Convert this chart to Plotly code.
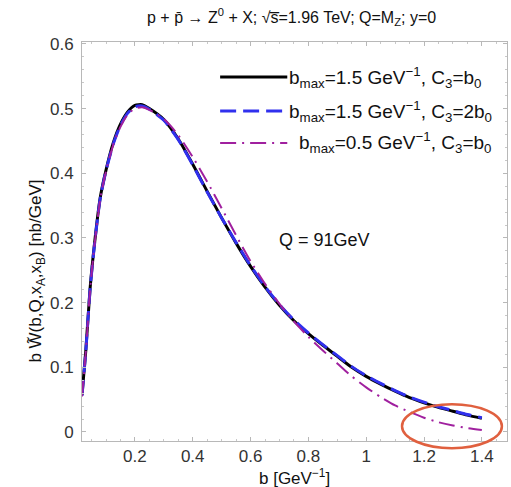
import plotly.graph_objects as go

# impact parameter b [GeV^-1]
b = [0.017, 0.03, 0.045, 0.06, 0.08, 0.10, 0.125, 0.15, 0.175, 0.20, 0.225, 0.25,
     0.30, 0.35, 0.40, 0.45, 0.50, 0.55, 0.60, 0.65, 0.70, 0.75, 0.80, 0.85,
     0.90, 0.95, 1.00, 1.05, 1.10, 1.15, 1.20, 1.25, 1.30, 1.35, 1.40]

# b * W~(b, Q, xA, xB) [nb/GeV]
w_bmax15_c3b0 = [0.057, 0.125, 0.222, 0.290, 0.362, 0.405, 0.447, 0.476, 0.495, 0.505, 0.506, 0.500,
                 0.483, 0.453, 0.414, 0.372, 0.331, 0.292, 0.256, 0.224, 0.196, 0.172, 0.152, 0.134,
                 0.117, 0.100, 0.086, 0.074, 0.063, 0.053, 0.045, 0.038, 0.032, 0.026, 0.021]
w_bmax15_c32b0 = [0.056, 0.124, 0.221, 0.289, 0.361, 0.404, 0.445, 0.474, 0.493, 0.503, 0.504, 0.499,
                  0.482, 0.452, 0.413, 0.371, 0.331, 0.293, 0.257, 0.225, 0.197, 0.173, 0.153, 0.135,
                  0.118, 0.101, 0.087, 0.075, 0.064, 0.054, 0.046, 0.039, 0.033, 0.027, 0.022]
w_bmax05_c3b0 = [0.055, 0.123, 0.220, 0.288, 0.360, 0.403, 0.444, 0.472, 0.491, 0.500, 0.502, 0.498,
                 0.484, 0.459, 0.425, 0.387, 0.346, 0.304, 0.264, 0.229, 0.198, 0.171, 0.147, 0.126,
                 0.106, 0.086, 0.069, 0.054, 0.041, 0.031, 0.022, 0.015, 0.010, 0.006, 0.003]

series_names = [
    "b<sub>max</sub>=1.5 GeV<sup>\u22121</sup>, C<sub>3</sub>=b<sub>0</sub>",
    "b<sub>max</sub>=1.5 GeV<sup>\u22121</sup>, C<sub>3</sub>=2b<sub>0</sub>",
    "b<sub>max</sub>=0.5 GeV<sup>\u22121</sup>, C<sub>3</sub>=b<sub>0</sub>",
]
series_values = [w_bmax15_c3b0, w_bmax15_c32b0, w_bmax05_c3b0]
series_colors = ["#000000", "#3030ee", "#a0209f"]
series_dash = ["solid", "16px,7px", "16px,6px,2px,6px"]
series_width = [3, 3, 2]

x_ticks = [0.2, 0.4, 0.6, 0.8, 1.0, 1.2, 1.4]
x_tick_text = ["0.2", "0.4", "0.6", "0.8", "1", "1.2", "1.4"]
y_ticks = [0, 0.1, 0.2, 0.3, 0.4, 0.5, 0.6]
y_tick_text = ["0", "0.1", "0.2", "0.3", "0.4", "0.5", "0.6"]

FONT = "Liberation Sans, Arial, Helvetica, sans-serif"

fig = go.Figure()
for name, vals, col, dash, wid in zip(series_names, series_values, series_colors,
                                      series_dash, series_width):
    fig.add_trace(go.Scatter(x=b, y=vals, mode="lines", name=name, showlegend=False,
                             line=dict(color=col, width=wid, dash=dash, shape="spline",
                                       smoothing=0.6)))

# hand-built legend: sample line segments plus labels (paper coordinates)
legend_rows_y = [0.912, 0.827, 0.747]
legend_text_x = [0.483, 0.483, 0.506]
for yy, tx, col, dash, wid, name in zip(legend_rows_y, legend_text_x, series_colors,
                                         series_dash, series_width, series_names):
    fig.add_shape(type="line", xref="paper", yref="paper", x0=0.325, x1=0.483,
                  y0=yy, y1=yy, line=dict(color=col, width=wid, dash=dash))
    fig.add_annotation(xref="paper", yref="paper", x=tx, y=yy, text=name,
                       showarrow=False, xanchor="left", yanchor="middle",
                       font=dict(size=19, color="#111", family=FONT))

# red ellipse highlighting the large-b tail
fig.add_shape(type="circle", xref="paper", yref="paper",
              x0=0.753, x1=0.988, y0=-0.018, y1=0.092,
              line=dict(color="#e0603f", width=2.5))

fig.add_annotation(x=0.857, y=0.297, text="Q = 91GeV", showarrow=False,
                   font=dict(size=18, color="#111", family=FONT))

fig.add_annotation(xref="paper", yref="paper", x=0.492, y=1.0, yshift=25,
                   text="p + p\u0304 \u2192 Z<sup>0</sup> + X; \u221As\u0305=1.96 TeV; Q=M<sub>Z</sub>; y=0",
                   showarrow=False, yanchor="middle",
                   font=dict(size=16, color="#111", family=FONT))

fig.add_annotation(xref="paper", yref="paper", x=-0.108, y=0.5, yshift=-30,
                   text="b W\u0303(b,Q,x<sub>A</sub>,x<sub>B</sub>) [nb/GeV]",
                   textangle=-90, showarrow=False, xanchor="center", yanchor="middle",
                   font=dict(size=17, color="#111", family=FONT))

fig.add_annotation(xref="paper", yref="paper", x=0.5, y=0, yshift=-36,
                   text="b [GeV<sup>\u22121</sup>]", showarrow=False, yanchor="middle",
                   font=dict(size=17, color="#111", family=FONT))

axis_common = dict(showgrid=False, zeroline=False, showline=True, linecolor="#b8b8b8",
                   linewidth=1, mirror="allticks", ticks="inside", ticklen=4,
                   tickcolor="#b8b8b8", tickfont=dict(size=17, color="#333", family=FONT))

fig.update_xaxes(range=[0.017, 1.487], tickvals=x_ticks, ticktext=x_tick_text,
                 minor=dict(ticks="inside", ticklen=2, dtick=0.05, tick0=0,
                            tickcolor="#c8c8c8"),
                 **axis_common)
fig.update_yaxes(range=[-0.014, 0.603], tickvals=y_ticks, ticktext=y_tick_text,
                 ticklabelstandoff=4,
                 minor=dict(ticks="inside", ticklen=2, dtick=0.02, tick0=0,
                            tickcolor="#c8c8c8"),
                 **axis_common)

fig.update_layout(width=511, height=487, margin=dict(l=82, r=4, t=42, b=46),
                  paper_bgcolor="white", plot_bgcolor="white", showlegend=False,
                  font=dict(family=FONT))

fig.write_html("out.html")
